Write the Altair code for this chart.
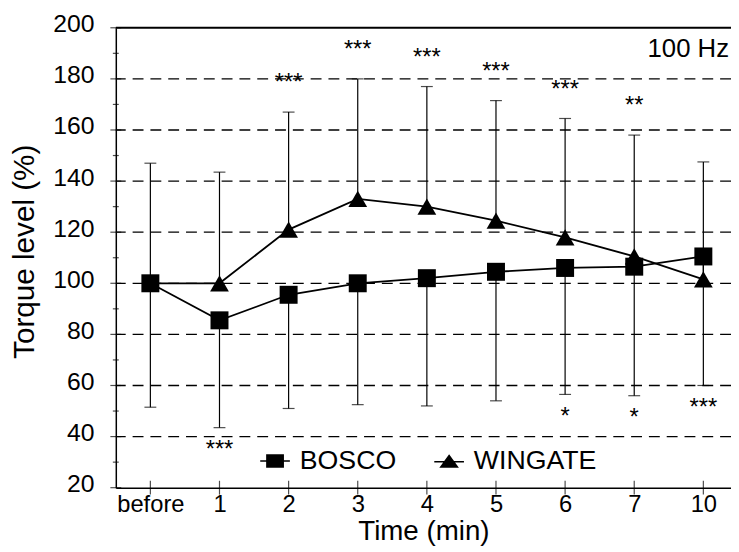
import altair as alt
import pandas as pd

# ---- data ----
labels = ["before", "1", "2", "3", "4", "5", "6", "7", "10"]
bosco = [100, 85.5, 95.5, 100, 102, 104.5, 106, 106.5, 110.5]
wingate = [100, 100, 121, 133, 130, 124.5, 118, 110.5, 101.5]
upper_sd = [147, 143.5, 167, 180, 177, 171.5, 164.5, 158, 147.5]
lower_sd = [51.5, 43.5, 51, 52.5, 52, 54, 56.5, 56, 60]
upper_sig = ["", "", "***", "***", "***", "***", "***", "**", ""]
lower_sig = ["", "***", "", "", "", "", "*", "*", "***"]
grid_values = [40, 60, 80, 100, 120, 140, 160, 180]
y_tick_values = list(range(20, 201, 10))
y_label_values = list(range(20, 201, 20))
series_names = ["BOSCO", "WINGATE"]
note_text = ["100 Hz"]

FONT = "Liberation Sans"
idx = list(range(len(labels)))

df = pd.DataFrame({
    "idx": idx, "label": labels, "bosco": bosco, "wingate": wingate,
    "upper": upper_sd, "lower": lower_sd,
    "usig": upper_sig, "lsig": lower_sig,
})
long = pd.concat([
    pd.DataFrame({"idx": idx, "series": "WINGATE", "value": wingate}),
    pd.DataFrame({"idx": idx, "series": "BOSCO", "value": bosco}),
], ignore_index=True)
grid_df = pd.DataFrame({"v": grid_values})
top_df = pd.DataFrame({"v": [200]})
yt_df = pd.DataFrame({"v": y_tick_values})
note_df = pd.DataFrame({"t": note_text})

label_js = "[" + ",".join("'" + s + "'" for s in labels) + "]"

xs = alt.Scale(domain=[-0.5, 8.4], nice=False, zero=False)
ys = alt.Scale(domain=[20, 200], nice=False, zero=False)

X = alt.X("idx:Q", scale=xs, axis=alt.Axis(
    values=idx, labelExpr=label_js + "[datum.value]",
    labelFont=FONT, labelFontSize=24, labelColor="black", labelPadding=5,
    labelBaseline="top",
    ticks=False, tickSize=0, grid=False, domainColor="black", domainWidth=1.5,
    title="Time (min)", titleFont=FONT, titleFontSize=28, titleFontWeight="normal",
    titleColor="black", titleY=52, titleBaseline="alphabetic"))

def Y(field):
    return alt.Y(field, scale=ys, axis=alt.Axis(
        values=y_label_values, labelFont=FONT, labelFontSize=25, labelColor="black",
        labelPadding=22, labelBaseline="middle", labelOffset=-4,
        ticks=False, tickSize=0, grid=False, domainColor="black", domainWidth=1.5,
        title="Torque level (%)", titleFont=FONT, titleFontSize=30,
        titleFontWeight="normal", titleColor="black", titleAngle=270,
        titleX=-83, titleY=226, titleBaseline="alphabetic", titleAlign="center"))

grid = alt.Chart(grid_df).mark_rule(color="black", strokeWidth=1.3, strokeDash=[11, 7]).encode(
    y=Y("v:Q"))
top = alt.Chart(top_df).mark_rule(color="black", strokeWidth=2).encode(y=alt.Y("v:Q", scale=ys))

base = alt.Chart(df)
up_bar = base.mark_rule(color="black", strokeWidth=1.2).encode(
    x=X, y=alt.Y("wingate:Q", scale=ys), y2="upper:Q")
lo_bar = base.mark_rule(color="black", strokeWidth=1.2).encode(
    x=alt.X("idx:Q", scale=xs), y=alt.Y("bosco:Q", scale=ys), y2="lower:Q")
up_cap = base.mark_tick(orient="horizontal", size=12, thickness=1.2, color="black").encode(
    x=alt.X("idx:Q", scale=xs), y=alt.Y("upper:Q", scale=ys))
lo_cap = base.mark_tick(orient="horizontal", size=12, thickness=1.2, color="black").encode(
    x=alt.X("idx:Q", scale=xs), y=alt.Y("lower:Q", scale=ys))

lines = alt.Chart(long).mark_line(color="black", strokeWidth=1.8).encode(
    x=alt.X("idx:Q", scale=xs), y=alt.Y("value:Q", scale=ys), detail="series:N")

tri_pts = alt.Chart(long).transform_filter(
    "datum.series == 'WINGATE' && datum.idx > 0"
).mark_point(filled=True, opacity=1, color="black", size=360, shape="triangle-up").encode(
    x=alt.X("idx:Q", scale=xs), y=alt.Y("value:Q", scale=ys))
sq_pts = alt.Chart(long).transform_filter(
    "datum.series == 'BOSCO'"
).mark_point(filled=True, opacity=1, color="black", size=330, shape="square").encode(
    x=alt.X("idx:Q", scale=xs), y=alt.Y("value:Q", scale=ys))

# legend glyphs: marker with a short line through it (filled shapes only)
legend_paths = ["M-1,-0.05H1V0.05H-1Z M-0.6,-0.45H0.6V0.45H-0.6Z",
                "M-1,0.0H1V0.1H-1Z M0,-0.45L0.66,0.45H-0.66Z"]
legend_layer = alt.Chart(long).transform_filter("false").mark_point(
    filled=True, opacity=1, color="black"
).encode(
    x=alt.X("idx:Q", scale=xs), y=alt.Y("value:Q", scale=ys),
    shape=alt.Shape("series:N", scale=alt.Scale(domain=series_names, range=legend_paths),
                    legend=alt.Legend(
                        title=None, orient="none", legendX=146, legendY=423,
                        direction="horizontal", padding=0, labelFont=FONT, labelFontSize=27,
                        labelColor="black", labelOffset=10, columnPadding=38,
                        symbolSize=900, labelBaseline="middle",
                        symbolFillColor="black", symbolStrokeWidth=0, symbolOpacity=1)),
)

up_txt = base.mark_text(font=FONT, fontSize=24, color="black", dy=-29, baseline="middle").encode(
    x=alt.X("idx:Q", scale=xs), y=alt.Y("upper:Q", scale=ys), text="usig:N")
lo_txt = base.mark_text(font=FONT, fontSize=24, color="black", dy=23, baseline="middle").encode(
    x=alt.X("idx:Q", scale=xs), y=alt.Y("lower:Q", scale=ys), text="lsig:N")

note = alt.Chart(note_df).mark_text(
    font=FONT, fontSize=26, color="black", align="right", baseline="alphabetic"
).encode(x=alt.value(620), y=alt.value(30), text="t:N")

yticks = alt.Chart(yt_df).mark_tick(orient="horizontal", color="black", thickness=1.2).encode(
    y=alt.Y("v:Q", scale=ys), x=alt.datum(-0.5, scale=xs),
    size=alt.condition("datum.v % 20 == 0", alt.value(11), alt.value(6)))
xticks = base.mark_tick(orient="vertical", color="black", thickness=1.2, size=14).encode(
    x=alt.X("idx:Q", scale=xs), y=alt.datum(20, scale=ys))

chart = alt.layer(
    grid, top, up_bar, lo_bar, up_cap, lo_cap, lines, tri_pts, sq_pts, legend_layer,
    up_txt, lo_txt, note, yticks, xticks
).properties(
    width=622, height=465,
    autosize=alt.AutoSizeParams(type="none"),
    padding={"left": 109, "top": 17, "right": 0, "bottom": 60},
    background="white",
).configure_view(stroke=None)

chart.save("out.html", embed_options={"renderer": "svg", "actions": False})
